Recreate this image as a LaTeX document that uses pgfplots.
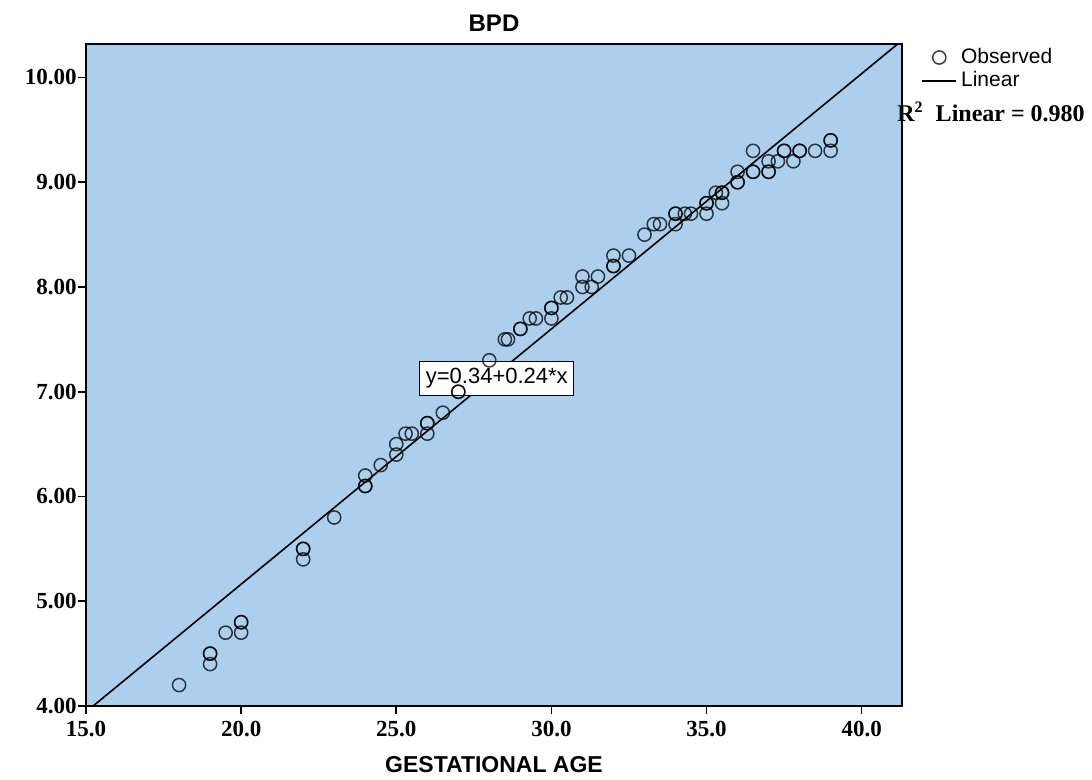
\documentclass[border=0pt]{standalone}
\usepackage{fontspec}
\setmainfont{Liberation Serif}
\setsansfont{Liberation Sans}
\usepackage{pgfplots}
\pgfplotsset{compat=1.18}
\definecolor{spssbg}{RGB}{173,207,238}

\begin{document}
\begin{tikzpicture}
\begin{axis}[
    name=ax,
    scale only axis,
    width=408pt, height=331pt,
    xmin=15, xmax=41.3,
    ymin=4, ymax=10.32,
    axis background/.style={fill=spssbg},
    axis line style={line width=0.8pt},
    xtick={15,20,...,40},
    ytick={4,5,...,10},
    tick align=outside,
    major tick length=4pt,
    xtick pos=bottom, ytick pos=left,
    tick style={line width=0.8pt, black},
    xticklabel style={/pgf/number format/.cd, fixed, fixed zerofill, precision=1},
    yticklabel style={inner xsep=0.5pt, /pgf/number format/.cd, fixed, fixed zerofill, precision=2},
    /pgf/number format/assume math mode=true,
    tick label style={font=\fontsize{11.5}{13}\selectfont\bfseries},
    title={BPD},
    title style={font=\sffamily\bfseries\fontsize{12}{14}\selectfont, yshift=-3.5pt},
    xlabel={GESTATIONAL AGE},
    xlabel style={font=\sffamily\bfseries\fontsize{11.5}{13}\selectfont, yshift=-3pt},
    legend style={at={(1,1)}, xshift=8.5pt, yshift=1pt, anchor=north west,
        draw=none, fill=none, font=\sffamily\fontsize{10.5}{11.5}\selectfont,
        row sep=-1.5pt, inner sep=1pt},
    legend cell align=left,
]

\addplot[only marks, mark=o, mark size=3.3pt,
    mark options={line width=0.75pt, draw=black, draw opacity=0.75}]
    table {
x y
18 4.2
19 4.5
19 4.5
19 4.4
19.5 4.7
20 4.8
20 4.8
20 4.7
22 5.5
22 5.5
22 5.4
23 5.8
24 6.1
24 6.1
24 6.2
24.5 6.3
25 6.4
25 6.5
25.3 6.6
25.5 6.6
26 6.6
26 6.7
26 6.7
26.5 6.8
27 7.0
27 7.0
28 7.3
28.5 7.5
28.6 7.5
29 7.6
29 7.6
29.3 7.7
29.5 7.7
30 7.7
30 7.8
30 7.8
30.3 7.9
30.5 7.9
31 8.0
31 8.1
31.3 8.0
31.5 8.1
32 8.2
32 8.2
32 8.3
32.5 8.3
33 8.5
33.3 8.6
33.5 8.6
34 8.6
34 8.7
34 8.7
34.3 8.7
34.5 8.7
35 8.7
35 8.8
35 8.8
35.5 8.8
35.3 8.9
35.5 8.9
35.5 8.9
36 9.0
36 9.0
36 9.1
36.5 9.1
36.5 9.1
36.5 9.3
37 9.1
37 9.1
37 9.2
37.3 9.2
37.5 9.3
37.5 9.3
37.8 9.2
38 9.3
38 9.3
38.5 9.3
39 9.4
39 9.4
39 9.3
};
\addlegendentry{Observed}

\addplot[black, line width=0.8pt] coordinates {(15.23,4.0) (41.16,10.32)};
\addlegendentry{Linear}

\node[fill=white, draw=black, line width=0.6pt, inner xsep=3pt, inner ysep=3.5pt,
      font=\sffamily\fontsize{11}{12}\selectfont]
    at (axis cs:28.24,7.13) {y=0.34+0.24*x};
\end{axis}

\node[anchor=west, font=\bfseries\fontsize{12}{14}\selectfont, inner sep=0pt]
    at ([xshift=-2.5pt,yshift=-34pt]ax.north east) {R\textsuperscript{2}\ \ Linear = 0.980};

\pgfresetboundingbox
\path ([xshift=-43pt,yshift=-37pt]ax.south west) rectangle ([xshift=503pt,yshift=353pt]ax.south west);
\end{tikzpicture}
\end{document}
